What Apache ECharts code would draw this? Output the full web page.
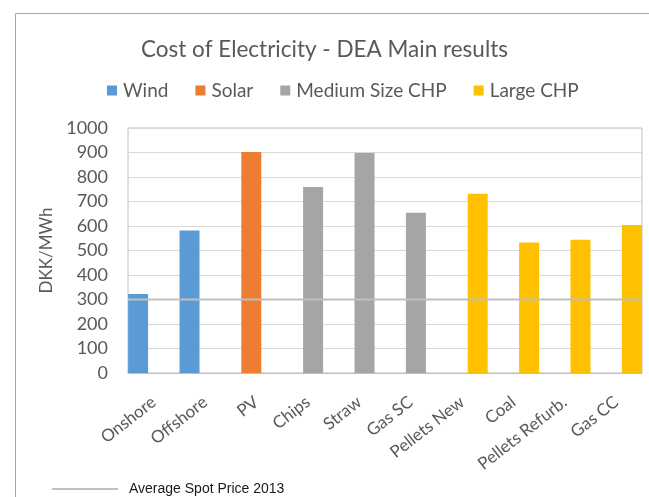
<!DOCTYPE html>
<html>
<head>
<meta charset="utf-8">
<script src="https://cdn.jsdelivr.net/npm/echarts@6/dist/echarts.min.js"></script>
<style>html,body{margin:0;padding:0;background:#fff;}#chart{width:649px;height:497px;}</style>
</head>
<body>
<div id="chart"></div>
<script>
const categories = ['Onshore', 'Offshore', 'PV', 'Chips', 'Straw', 'Gas SC', 'Pellets New', 'Coal', 'Pellets Refurb.', 'Gas CC'];
const windValues   = [322, 582, null, null, null, null, null, null, null, null];
const solarValues  = [null, null, 902, null, null, null, null, null, null, null];
const mediumValues = [null, null, null, 759, 898, 654, null, null, null, null];
const largeValues  = [null, null, null, null, null, null, 732, 533, 544, 604];
const spotPrice2013 = 300;
const yTicks = [0, 1000, 100];

const font = 'Lato';
const chart = echarts.init(document.getElementById('chart'), null, {renderer: 'canvas'});
const barCommon = {type: 'bar', barWidth: 20, barGap: '-48%'};
chart.setOption({
  animation: false,
  backgroundColor: '#fff',
  title: {
    text: 'Cost of Electricity - DEA Main results',
    left: 'center', top: 33,
    textStyle: {fontFamily: font, fontSize: 22.5, fontWeight: 'normal', color: '#595959'}
  },
  legend: [{
    data: ['Wind', 'Solar', 'Medium Size CHP', 'Large CHP'],
    left: 102, top: 76,
    icon: 'rect', itemWidth: 10, itemHeight: 10, itemGap: 27,
    textStyle: {fontFamily: font, fontSize: 19, color: '#595959', padding: [0, 0, 0, 1]}
  }, {
    data: [{name: 'Average Spot Price 2013', icon: 'rect'}],
    left: 47, top: 477,
    itemWidth: 66, itemHeight: 2,
    textStyle: {fontFamily: 'Liberation Sans', fontSize: 14, color: '#1a1a1a', padding: [0, 0, 0, 6]}
  }],
  grid: {left: 128, right: 7, top: 128, bottom: 124, show: true, borderColor: '#BFBFBF', borderWidth: 1},
  xAxis: [{
    type: 'category', data: categories,
    axisLine: {lineStyle: {color: '#BFBFBF'}},
    axisTick: {show: false},
    axisLabel: {interval: 0, rotate: 38, fontFamily: font, fontSize: 17, color: '#595959', margin: 27}
  }, {
    type: 'value', min: 0, max: 1, show: false
  }],
  yAxis: {
    type: 'value', min: yTicks[0], max: yTicks[1], interval: yTicks[2],
    name: 'DKK/MWh', nameLocation: 'middle', nameRotate: 90, nameGap: 70,
    nameTextStyle: {fontFamily: font, fontSize: 17, color: '#595959'},
    axisLine: {show: false}, axisTick: {show: false},
    axisLabel: {fontFamily: font, fontSize: 18, color: '#595959', margin: 20, formatter: v => String(v)},
    splitLine: {lineStyle: {color: '#D9D9D9', width: 1}}
  },
  series: [
    Object.assign({name: 'Wind', data: windValues, itemStyle: {color: '#5B9BD5'}}, barCommon),
    Object.assign({name: 'Solar', data: solarValues, itemStyle: {color: '#ED7D31'}}, barCommon),
    Object.assign({name: 'Medium Size CHP', data: mediumValues, itemStyle: {color: '#A5A5A5'}}, barCommon),
    Object.assign({name: 'Large CHP', data: largeValues, itemStyle: {color: '#FFC000'}}, barCommon),
    {
      name: 'Average Spot Price 2013', type: 'line', xAxisIndex: 1,
      data: [[0, spotPrice2013], [1, spotPrice2013]],
      symbol: 'none', z: 5,
      lineStyle: {color: '#BFBFBF', width: 2},
      itemStyle: {color: '#BFBFBF'}
    }
  ],
  graphic: [{
    type: 'rect', left: 13, top: 11,
    shape: {width: 700, height: 600},
    style: {fill: 'none', stroke: '#A6A6A6', lineWidth: 1},
    z: -1
  }]
});
</script>
</body>
</html>
